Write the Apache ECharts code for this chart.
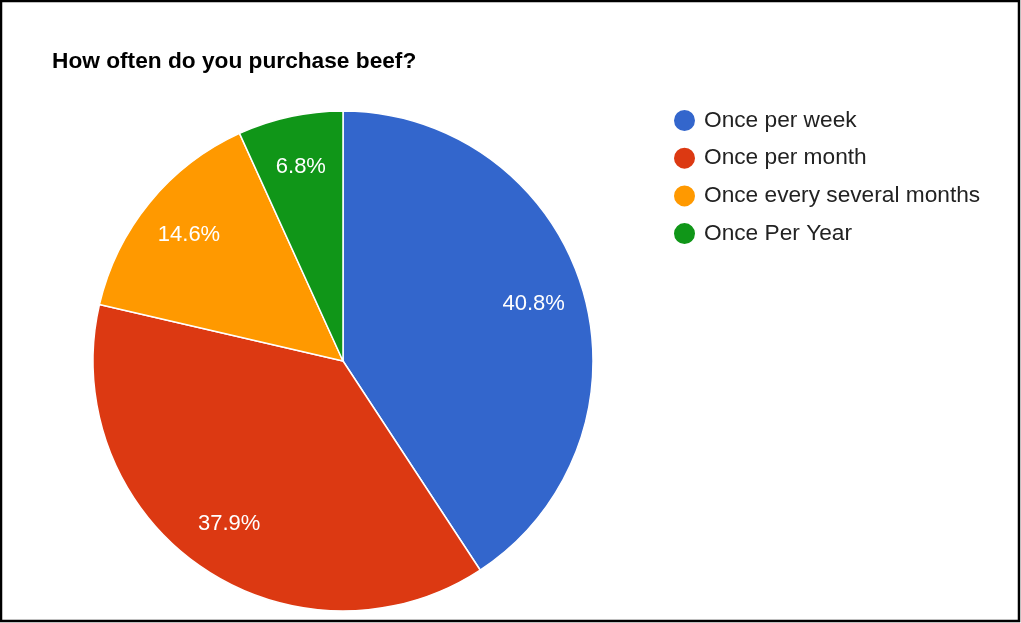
<!DOCTYPE html>
<html>
<head>
<meta charset="utf-8">
<script src="https://cdn.jsdelivr.net/npm/echarts@6/dist/echarts.min.js"></script>
<style>
  html, body { margin: 0; padding: 0; background: #fff; }
  #chart { width: 1021px; height: 623px; }
</style>
</head>
<body>
<div id="chart"></div>
<script>
// Survey answers and their shares (percent)
const categories = ['Once per week', 'Once per month', 'Once every several months', 'Once Per Year'];
const shares = [40.8, 37.9, 14.6, 6.8];
const colors = ['#3366cc', '#dc3912', '#ff9900', '#109618'];

const font = 'Arial, "Liberation Sans", sans-serif';
const pieData = categories.map((name, i) => ({ name, value: shares[i], itemStyle: { color: colors[i] } }));

const chart = echarts.init(document.getElementById('chart'), null, { renderer: 'canvas' });
chart.setOption({
  animation: false,
  color: colors,
  graphic: [{
    type: 'rect',
    shape: { x: 1, y: 1, width: 1018, height: 620 },
    style: { fill: 'none', stroke: '#000', lineWidth: 2.5 },
    silent: true
  }],
  title: {
    text: 'How often do you purchase beef?',
    left: 52, top: 50, padding: 0,
    textStyle: { fontFamily: font, fontSize: 22.7, fontWeight: 'bold', color: '#000' }
  },
  legend: {
    orient: 'vertical',
    left: 672, top: 108, padding: 0,
    icon: 'circle',
    itemWidth: 23, itemHeight: 23,
    itemGap: 12.7,
    data: categories,
    textStyle: { fontFamily: font, fontSize: 22.7, color: '#222', lineHeight: 23, padding: [0, 0, 0, 3] }
  },
  series: [
    {
      type: 'pie',
      center: [343, 361],
      radius: [0, 250],
      startAngle: 90,
      clockwise: true,
      avoidLabelOverlap: false,
      label: { show: false },
      labelLine: { show: false },
      itemStyle: { borderColor: '#fff', borderWidth: 1.5 },
      emphasis: { disabled: true },
      data: pieData
    },
    {
      // transparent ring that carries the percentage labels further out
      type: 'pie',
      center: [343, 361],
      radius: [142, 250],
      startAngle: 90,
      clockwise: true,
      silent: true,
      avoidLabelOverlap: false,
      itemStyle: { color: 'rgba(0,0,0,0)', borderWidth: 0 },
      label: {
        show: true,
        position: 'inside',
        formatter: p => p.value.toFixed(1) + '%',
        fontFamily: font, fontSize: 22, color: '#fff'
      },
      labelLine: { show: false },
      emphasis: { disabled: true },
      data: categories.map((name, i) => ({ name, value: shares[i], itemStyle: { color: 'rgba(0,0,0,0)' } }))
    }
  ]
});
</script>
</body>
</html>
